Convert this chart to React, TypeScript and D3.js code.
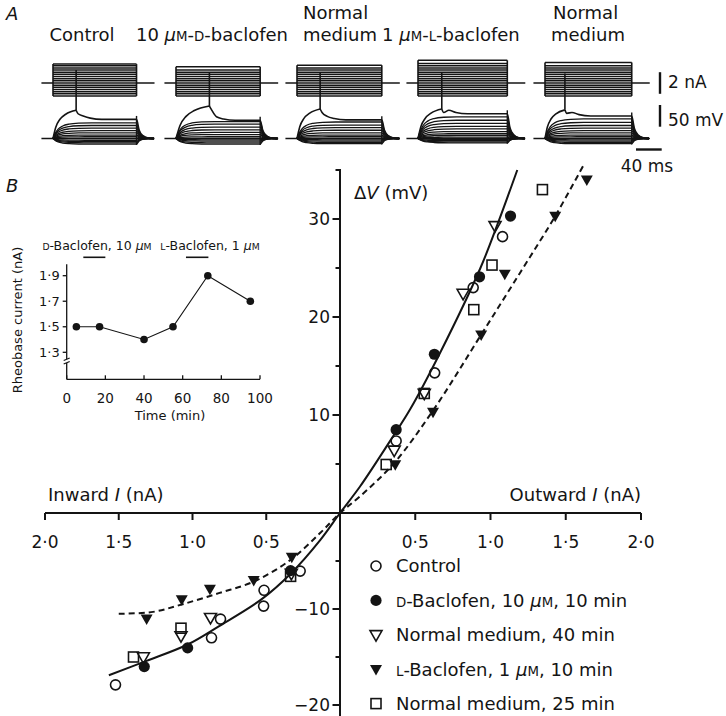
import React from 'react';
import * as d3 from 'd3';

const W = 726;
const H = 716;
const FONT = 'DejaVu Sans';
const INK = '#141414';

// ---------- B: current–voltage relation (I in nA, ΔV in mV) ----------
const controlPts: [number, number][] = [
  [1.08, 28.2], [0.885, 23.0], [0.629, 14.3], [0.373, 7.35],
  [-0.27, -6.05], [-0.515, -8.05], [-0.518, -9.7], [-0.81, -11.05], [-0.871, -13.0], [-1.522, -17.9],
];
const dBaclofenPts: [number, number][] = [
  [1.133, 30.3], [0.927, 24.1], [0.627, 16.2], [0.373, 8.5],
  [-0.335, -6.0], [-1.033, -14.05], [-1.327, -16.0],
];
const normal40Pts: [number, number][] = [
  [1.03, 29.3], [0.818, 22.4], [0.56, 12.2], [0.36, 6.4],
  [-0.33, -6.3], [-0.878, -10.9], [-1.078, -12.8], [-1.333, -15.0],
];
const lBaclofenPts: [number, number][] = [
  [1.64, 34.0], [1.43, 30.3], [1.095, 24.4], [0.938, 18.2], [0.618, 10.3], [0.367, 4.95],
  [-0.327, -4.57], [-0.585, -7.0], [-0.882, -7.9], [-1.073, -9.0], [-1.311, -11.0],
];
const normal25Pts: [number, number][] = [
  [1.345, 33.0], [1.01, 25.3], [0.889, 20.75], [0.56, 12.2], [0.307, 4.95],
  [-0.335, -6.6], [-1.078, -12.0], [-1.4, -15.0],
];

// hand-drawn fits
const solidFit: [number, number][] = [
  [-1.567, -16.9], [-1.311, -15.4], [-1.033, -13.7], [-0.822, -11.8], [-0.533, -9.0], [-0.333, -6.3],
  [-0.133, -2.8], [0, 0], [0.133, 2.7], [0.356, 7.9], [0.467, 10.6], [0.667, 16.4], [0.933, 25.0],
  [1.05, 29.6], [1.178, 35.0],
];
const dashedFit: [number, number][] = [
  [-1.5, -10.5], [-1.267, -10.3], [-1.067, -9.5], [-0.822, -8.35], [-0.578, -7.1], [-0.333, -4.85],
  [-0.133, -2.06], [0, 0], [0.133, 1.7], [0.36, 5.1], [0.62, 10.5], [0.93, 18.0], [1.2, 24.6],
  [1.43, 30.3], [1.615, 35.4],
];

const xTicks = [-2, -1.5, -1, -0.5, 0.5, 1, 1.5, 2];
const yMajor = [-20, -10, 10, 20, 30];
const yMinor = [-15, -5, 5, 15, 25, 35];

// ---------- inset: rheobase ----------
const rheoTimes = [5, 17, 40, 55, 73, 95];
const rheoValues = [1.5, 1.5, 1.4, 1.5, 1.9, 1.7];
const rheoYTicks = [1.3, 1.5, 1.7, 1.9];
const rheoXTicks = [0, 20, 40, 60, 80, 100];
const drugStart = [8.6, 61.7];
const drugEnd = [20, 73.3];

// ---------- A: recordings ----------
const stepDur = [130, 131, 132, 139, 135]; // ms
const stepCurrents = [-1.2, -1.0, -0.8, -0.6, -0.4, -0.2, 0.2, 0.4, 0.6, 0.8, 1.0, 1.2, 1.4, 1.6, 1.8];
const topCurrent = [1.75, 1.5, 1.65, 2.1, 1.9];
const vLevels = [
  [-13, -10, -7, -4, 4, 8, 13, 18, 24, 30, 36],
  [-13, -10, -6, -3, 4, 9, 14, 20, 26, 33, 39],
  [-12, -9, -6, -3, 4, 8, 13, 19, 25, 31, 38],
  [-10, -8, -5, -2, 3, 7, 11, 16, 22, 28, 35, 42, 50],
  [-12, -9, -6, -3, 4, 8, 13, 18, 24, 30, 37, 45],
];
const spikeTime = [36, 52, 36, 37, 31];
const spikeThresh = [65, 75, 68, 68, 66];
const spikePeak = [158, 152, 152, 151, 150];
const spikePlateau = [44, 42, 43, 57, 52];

// layout
const colLeft = [53, 176, 297, 418, 545];
const msPx = 25.7 / 40;
const nAPx = 21.6 / 2;
const mVPx = 21.7 / 50;
const iBase = 83;
const vBase = 138.5;

const riseShape: [number, number][] = [[0, 0], [3, 0.3], [8, 0.6], [15, 0.8], [25, 0.92], [40, 0.98], [60, 1]];

const SC = ({ c, s }: { c: string; s: number }) => <tspan fontSize={s * 0.74}>{c}</tspan>;
const Mu = ({ s }: { s: number }) => (
  <>
    <tspan fontStyle="italic">µ</tspan>
    <SC c="M" s={s} />
  </>
);

function Marker({ type, x, y }: { type: string; x: number; y: number }) {
  const sw = 1.6;
  if (type === 'oc') return <circle cx={x} cy={y} r={5} fill="none" stroke={INK} strokeWidth={sw} />;
  if (type === 'fc') return <circle cx={x} cy={y} r={5.6} fill={INK} />;
  if (type === 'ot' || type === 'ft') {
    const s = 6;
    const pts = `${x - s},${y - s * 0.7} ${x + s},${y - s * 0.7} ${x},${y + s * 1.05}`;
    return type === 'ot'
      ? <polygon points={pts} fill="none" stroke={INK} strokeWidth={sw} strokeLinejoin="miter" />
      : <polygon points={pts} fill={INK} />;
  }
  return <rect x={x - 5} y={y - 5} width={10} height={10} fill="none" stroke={INK} strokeWidth={sw} />;
}

function Recording({ k }: { k: number }) {
  const dur = stepDur[k];
  const t = d3.scaleLinear().domain([0, dur]).range([colLeft[k], colLeft[k] + dur * msPx]);
  const iy = (c: number) => iBase - c * nAPx;
  const vy = (v: number) => vBase - v * mVPx;
  const line = d3.line<[number, number]>().x(d => t(d[0])).y(d => vy(d[1])).curve(d3.curveMonotoneX);
  const currents = [...stepCurrents.filter(c => c < topCurrent[k] - 0.1), topCurrent[k]];
  const cMin = d3.min(currents) as number;
  const levels = vLevels[k];
  const tail = (L: number): [number, number][] => [[dur, L], [dur + 4, 0.45 * L], [dur + 10, 0.15 * L], [dur + 18, 0.03 * L], [dur + 27, 0]];
  const trace = (L: number): [number, number][] => [
    ...riseShape.map(([tt, f]) => [tt, f * L] as [number, number]),
    [dur - 1, L],
    ...tail(L),
  ];
  const st = spikeTime[k];
  const th = spikeThresh[k];
  const pl = spikePlateau[k];
  const spikeRise: [number, number][] = [[0, 0], [0.12 * st, 0.4 * th], [0.3 * st, 0.68 * th], [0.55 * st, 0.86 * th], [st, th]];
  const spikeFall: [number, number][] = [[st, th], [st + 3, th - 8], [st + 11, pl + 8], [st + 22, pl + 3], [st + 40, pl], [dur - 1, pl], ...tail(pl)];
  const vMax = Math.max(pl, d3.max(levels) as number);
  const vMin = d3.min(levels) as number;
  return (
    <g fill="none" stroke={INK} strokeWidth={1.3}>
      {/* current records */}
      <line x1={t(-18)} x2={t(dur + 28)} y1={iBase} y2={iBase} strokeWidth={1.6} />
      {currents.map((c, j) => (
        <line key={j} x1={t(0)} x2={t(dur)} y1={iy(c)} y2={iy(c)} strokeWidth={1.5} />
      ))}
      <line x1={t(0)} x2={t(0)} y1={iy(cMin)} y2={iy(topCurrent[k])} strokeWidth={1.6} />
      <line x1={t(dur)} x2={t(dur)} y1={iy(cMin)} y2={iy(topCurrent[k])} strokeWidth={1.6} />
      {/* voltage records */}
      <line x1={t(-18)} x2={t(dur + 28)} y1={vBase} y2={vBase} strokeWidth={1.6} />
      {levels.map((L, j) => (
        <path key={j} d={line(trace(L)) || ''} />
      ))}
      <path d={line(spikeRise) || ''} strokeWidth={1.6} />
      <path d={line(spikeFall) || ''} strokeWidth={1.6} />
      <line x1={t(st)} x2={t(st)} y1={vy(th)} y2={vy(spikePeak[k])} strokeWidth={1.6} />
      <line x1={t(dur)} x2={t(dur)} y1={vy(vMin - 2)} y2={vy(vMax + 8)} strokeWidth={1.4} />
    </g>
  );
}

export default function App() {
  // B main axes
  const x = d3.scaleLinear().domain([-2, 0, 2]).range([45, 340, 641]);
  const y = d3.scaleLinear().domain([-21, -20, 0, 30]).range([716, 705, 513, 219]);
  const fitLine = d3.line<[number, number]>().x(d => x(d[0])).y(d => y(d[1])).curve(d3.curveCatmullRom.alpha(0.5));
  const fmt = (d: number) => Math.abs(d).toFixed(1).replace('.', '·');

  // inset axes
  const ix = d3.scaleLinear().domain([0, 100]).range([66.7, 260]);
  const iy = d3.scaleLinear().domain([1.3, 1.9]).range([352.3, 275.7]);
  const insetLine = d3.line<number>().x((_, i) => ix(rheoTimes[i])).y(d => iy(d));
  const insetBottom = 379.3;

  const series = [
    { type: 'oc', pts: controlPts },
    { type: 'fc', pts: dBaclofenPts },
    { type: 'ot', pts: normal40Pts },
    { type: 'ft', pts: lBaclofenPts },
    { type: 'os', pts: normal25Pts },
  ];

  const ls = 18;
  const legend = [
    { type: 'oc', label: <>Control</> },
    { type: 'fc', label: <><SC c="D" s={ls} />-Baclofen, 10 <Mu s={ls} />, 10 min</> },
    { type: 'ot', label: <>Normal medium, 40 min</> },
    { type: 'ft', label: <><SC c="L" s={ls} />-Baclofen, 1 <Mu s={ls} />, 10 min</> },
    { type: 'os', label: <>Normal medium, 25 min</> },
  ];

  const hs = 18;
  const ins = 12.5;

  return (
    <svg width={W} height={H} viewBox={`0 0 ${W} ${H}`} style={{ position: 'absolute', left: 0, top: 0, background: '#fff' }}
      fontFamily={FONT} fill={INK}>
      <rect width={W} height={H} fill="#fff" />

      {/* ---------- panel A ---------- */}
      <text x={6} y={20} fontSize={18} fontStyle="italic">A</text>
      <g fontSize={hs}>
        <text x={82} y={41} textAnchor="middle">Control</text>
        <text x={288} y={41} textAnchor="end">10 <Mu s={hs} />-<SC c="D" s={hs} />-baclofen</text>
        <text x={303} y={19}>Normal</text>
        <text x={303} y={41}>medium</text>
        <text x={382} y={41}>1 <Mu s={hs} />-<SC c="L" s={hs} />-baclofen</text>
        <text x={553} y={19}>Normal</text>
        <text x={551} y={41}>medium</text>
      </g>
      {colLeft.map((_, k) => <Recording key={k} k={k} />)}
      {/* scale bars */}
      <g stroke={INK} strokeWidth={2.4}>
        <line x1={660} x2={660} y1={iBase - nAPx} y2={iBase + nAPx} />
        <line x1={660} x2={660} y1={126.7 - 50 * mVPx} y2={126.7} />
        <line x1={661.7 - 40 * msPx} x2={661.7} y1={149.5} y2={149.5} />
      </g>
      <text x={668} y={88} fontSize={17}>2 nA</text>
      <text x={668} y={126} fontSize={17}>50 mV</text>
      <text x={647} y={172} fontSize={17} textAnchor="middle">40 ms</text>

      {/* ---------- panel B ---------- */}
      <text x={6} y={192} fontSize={18} fontStyle="italic">B</text>

      {/* inset */}
      <g fontSize={ins}>
        <text x={97} y={250} textAnchor="middle"><SC c="D" s={ins} />-Baclofen, 10 <Mu s={ins} /></text>
        <text x={210} y={250} textAnchor="middle"><SC c="L" s={ins} />-Baclofen, 1 <Mu s={ins} /></text>
      </g>
      {drugStart.map((s, i) => (
        <line key={i} x1={ix(s)} x2={ix(drugEnd[i])} y1={257.3} y2={257.3} stroke={INK} strokeWidth={1.6} />
      ))}
      <g stroke={INK} strokeWidth={1.3} fill="none">
        <line x1={ix(0)} x2={ix(0)} y1={iy(1.99)} y2={insetBottom} />
        <line x1={ix(0)} x2={ix(100)} y1={insetBottom} y2={insetBottom} />
        {rheoXTicks.map(d => <line key={d} x1={ix(d)} x2={ix(d)} y1={insetBottom} y2={insetBottom - 4} />)}
        {rheoYTicks.map(d => <line key={d} x1={ix(0)} x2={ix(0) - 4} y1={iy(d)} y2={iy(d)} />)}
        <rect x={ix(0) - 3} y={359} width={6} height={4} fill="#fff" stroke="none" />
        <line x1={ix(0) - 3} x2={ix(0) + 3} y1={360.5} y2={358} />
        <line x1={ix(0) - 3} x2={ix(0) + 3} y1={364} y2={361.5} />
        <path d={insetLine(rheoValues) || ''} strokeWidth={1.1} />
      </g>
      {rheoValues.map((v, i) => <circle key={i} cx={ix(rheoTimes[i])} cy={iy(v)} r={3.8} fill={INK} />)}
      <g fontSize={13}>
        {rheoYTicks.map(d => (
          <text key={d} x={ix(0) - 7} y={iy(d)} dy="0.36em" textAnchor="end">{d.toFixed(1).replace('.', '·')}</text>
        ))}
        {rheoXTicks.map(d => (
          <text key={d} x={ix(d)} y={403} textAnchor="middle" fontSize={13.5}>{d}</text>
        ))}
        <text x={170} y={420} textAnchor="middle">Time (min)</text>
        <text transform="translate(22,320) rotate(-90)" textAnchor="middle">Rheobase current (nA)</text>
      </g>

      {/* main axes */}
      <g stroke={INK} strokeWidth={2} fill="none">
        <line x1={x(-2)} x2={x(2)} y1={y(0)} y2={y(0)} />
        <line x1={x(0)} x2={x(0)} y1={y(35.1)} y2={y(-21)} />
        {xTicks.map(d => <line key={d} x1={x(d)} x2={x(d)} y1={y(0)} y2={y(0) + 7} />)}
        {yMajor.map(d => <line key={d} x1={x(0)} x2={x(0) - 7.5} y1={y(d)} y2={y(d)} />)}
        {yMinor.map(d => <line key={d} x1={x(0)} x2={x(0) - 4.5} y1={y(d)} y2={y(d)} />)}
      </g>
      <g fontSize={17}>
        {xTicks.map(d => (
          <text key={d} x={x(d)} y={548} textAnchor="middle">{fmt(d)}</text>
        ))}
        {yMajor.map(d => (
          <text key={d} x={330} y={y(d)} dy="0.36em" textAnchor="end">{d < 0 ? `−${-d}` : d}</text>
        ))}
      </g>
      <g fontSize={18}>
        <text x={48} y={501}>Inward <tspan fontStyle="italic">I</tspan> (nA)</text>
        <text x={641} y={501} textAnchor="end">Outward <tspan fontStyle="italic">I</tspan> (nA)</text>
        <text x={354} y={199}>Δ<tspan fontStyle="italic">V</tspan> (mV)</text>
      </g>

      {/* fitted curves */}
      <path d={fitLine(solidFit) || ''} fill="none" stroke={INK} strokeWidth={2} />
      <path d={fitLine(dashedFit) || ''} fill="none" stroke={INK} strokeWidth={2} strokeDasharray="6,4" />

      {/* points */}
      {series.map((s, i) => (
        <g key={i}>
          {s.pts.map((p, j) => <Marker key={j} type={s.type} x={x(p[0])} y={y(p[1])} />)}
        </g>
      ))}

      {/* legend */}
      {legend.map((e, i) => (
        <g key={i}>
          <Marker type={e.type} x={376} y={566 + i * 34.4} />
          <text x={396} y={566 + i * 34.4} dy="0.36em" fontSize={ls}>{e.label}</text>
        </g>
      ))}
    </svg>
  );
}
